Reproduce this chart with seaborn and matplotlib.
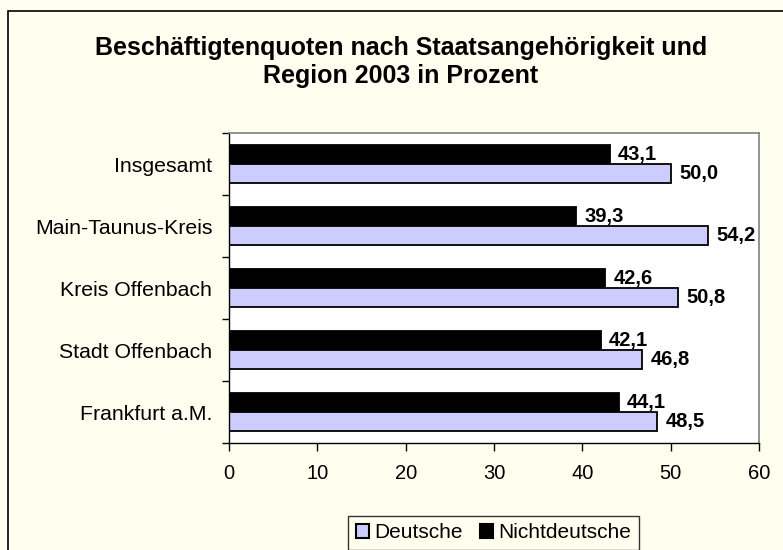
import matplotlib
matplotlib.use("Agg")
import matplotlib.pyplot as plt
import matplotlib.patches as mpatches
import seaborn as sns
import pandas as pd
import numpy as np

regions = ["Insgesamt", "Main-Taunus-Kreis", "Kreis Offenbach", "Stadt Offenbach", "Frankfurt a.M."]
deutsche = [50.0, 54.2, 50.8, 46.8, 48.5]
nichtdeutsche = [43.1, 39.3, 42.6, 42.1, 44.1]
series = ["Nichtdeutsche", "Deutsche"]
colors = {"Deutsche": "#CCCCFF", "Nichtdeutsche": "#000000"}
xticks = [0, 10, 20, 30, 40, 50, 60]

df = pd.DataFrame({
    "Region": regions * 2,
    "Wert": nichtdeutsche + deutsche,
    "Gruppe": ["Nichtdeutsche"] * len(regions) + ["Deutsche"] * len(regions),
})

sns.set_theme(style="white")
plt.rcParams["font.family"] = ["Liberation Sans", "DejaVu Sans"]
plt.rcParams["text.color"] = "black"
plt.rcParams["xtick.color"] = "black"
plt.rcParams["ytick.color"] = "black"
plt.rcParams["axes.labelcolor"] = "black"

BG = "#FFFFF0"
fig = plt.figure(figsize=(7.83, 5.5), dpi=100, facecolor=BG)
ax = fig.add_axes([229/783, 1-443/550, 530/783, 310/550])
ax.set_facecolor("white")

sns.barplot(data=df, y="Region", x="Wert", hue="Gruppe", order=regions,
            hue_order=series, palette=colors, orient="h", width=0.6,
            edgecolor="black", linewidth=1.3, legend=False, ax=ax, saturation=1)

ax.set_xlim(0, 60)
ax.set_ylim(len(regions)-0.5, -0.5)
ax.set_xticks(xticks)
ax.set_xticklabels([str(t) for t in xticks], fontsize=14.5, color="black")
ax.set_xlabel("")
ax.set_ylabel("")
ax.tick_params(axis="x", direction="out", length=6, width=1, color="black", labelcolor="black", pad=9, bottom=True)
ax.set_yticks(range(len(regions)))
ax.set_yticklabels(regions, fontsize=15.3, color="black")
ax.tick_params(axis="y", which="major", length=0, pad=12, left=False, labelcolor="black")
ax.set_yticks(np.arange(-0.5, len(regions), 1.0), minor=True)
ax.tick_params(axis="y", which="minor", direction="out", length=5, width=1, color="black", left=True)

for side in ["top", "right"]:
    ax.spines[side].set_color("#808080")
    ax.spines[side].set_linewidth(1.2)
for side in ["left", "bottom"]:
    ax.spines[side].set_color("black")
    ax.spines[side].set_linewidth(1.0)

for cont in ax.containers:
    labels = [f"{v:.1f}".replace(".", ",") for v in cont.datavalues]
    ax.bar_label(cont, labels=labels, padding=6, fontsize=14.5, fontweight="bold", color="black")

fig.text(401/783, 1-62/550, "Beschäftigtenquoten nach Staatsangehörigkeit und\nRegion 2003 in Prozent",
         ha="center", va="center", fontsize=18, fontweight="bold", linespacing=1.2, color="black")

frame = mpatches.Rectangle((8/783, -0.1), 1.2, 1.1 - 11/550, transform=fig.transFigure,
                           fill=False, edgecolor="black", linewidth=1.2)
fig.patches.append(frame)

handles = [mpatches.Patch(facecolor=colors["Deutsche"], edgecolor="black", linewidth=1.5, label="Deutsche"),
           mpatches.Patch(facecolor=colors["Nichtdeutsche"], edgecolor="black", linewidth=1.5, label="Nichtdeutsche")]
leg = fig.legend(handles=handles, loc="upper center", bbox_to_anchor=(493.5/783, 1-516/550), ncol=2,
                 fontsize=15, frameon=True, fancybox=False, handlelength=0.65, handleheight=0.7,
                 handletextpad=0.25, columnspacing=0.8, borderpad=0.35, borderaxespad=0,
                 labelcolor="black")
leg.get_frame().set_edgecolor("black")
leg.get_frame().set_facecolor(BG)
leg.get_frame().set_linewidth(1.0)

fig.savefig("out.png", dpi=100, facecolor=BG)
